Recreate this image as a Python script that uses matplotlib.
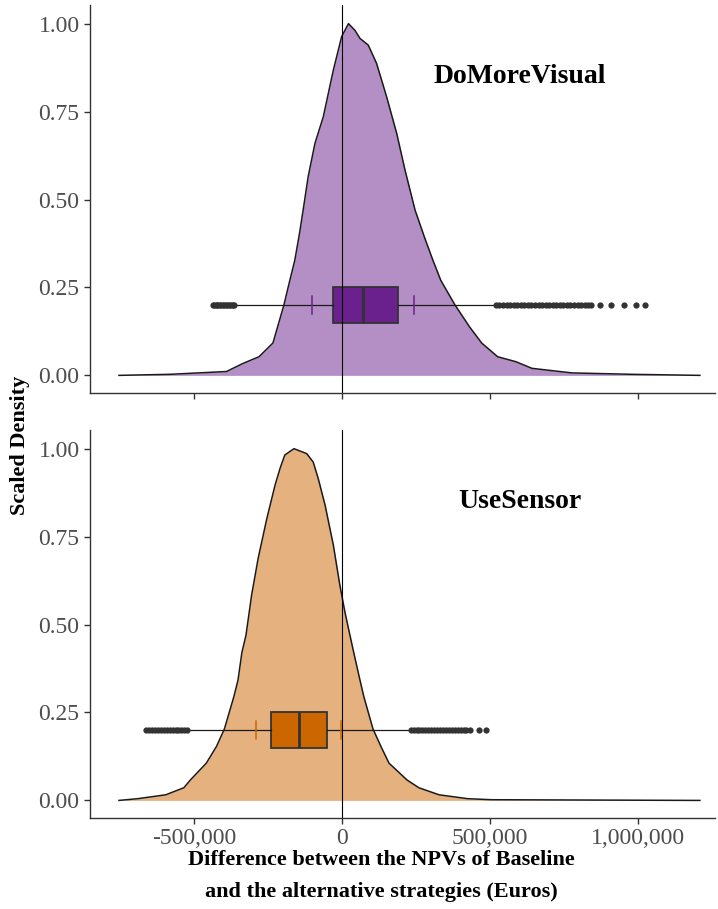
import matplotlib
matplotlib.use("Agg")
import matplotlib.pyplot as plt
from matplotlib.ticker import FuncFormatter

plt.rcParams['font.family'] = ['Liberation Serif', 'DejaVu Serif']

# ------------------------
# Data (thousand euros)
# ------------------------
strategies = ["DoMoreVisual", "UseSensor"]
fill_colors = ["#6A208D", "#CC6600"]

dmv_x = [-753, -581, -390, -334, -280, -233, -196, -176, -159, -143, -131,
         -114, -91, -63, -29, -1, 22, 44, 61, 89, 117, 151, 185, 213, 247,
         280, 307, 334, 382, 431, 472, 526, 587, 642, 777, 980, 1209]
dmv_density = [0.000, 0.003, 0.011, 0.034, 0.053, 0.092, 0.20, 0.27, 0.328,
               0.405, 0.47, 0.565, 0.66, 0.735, 0.868, 0.963, 1.00, 0.981,
               0.958, 0.939, 0.887, 0.792, 0.688, 0.584, 0.47, 0.39, 0.328,
               0.27, 0.20, 0.138, 0.092, 0.053, 0.039, 0.020, 0.007, 0.003,
               0.000]

us_x = [-753, -689, -595, -534, -512, -458, -424, -397, -365, -351, -338,
        -324, -305, -283, -254, -226, -209, -193, -162, -119, -97, -80, -57,
        -29, -7, 10, 27, 40, 61, 74, 105, 132, 159, 220, 260, 328, 424, 505,
        1209]
us_density = [0.000, 0.005, 0.016, 0.036, 0.058, 0.106, 0.153, 0.203, 0.295,
              0.342, 0.42, 0.47, 0.584, 0.688, 0.80, 0.896, 0.944, 0.982,
              1.00, 0.986, 0.962, 0.915, 0.84, 0.726, 0.612, 0.536, 0.47,
              0.42, 0.342, 0.295, 0.203, 0.153, 0.106, 0.058, 0.036, 0.016,
              0.005, 0.002, 0.000]

# box stats: whislo, q1, median, q3, whishi ; mean, sd
dmv_box = [-360, -30, 71, 189, 512]
us_box = [-520, -240, -145, -51, 226]
dmv_mean_sd = [71, 172]
us_mean_sd = [-147, 144]

dmv_outliers = [-437, -432, -427, -422, -417, -412, -407, -402, -397, -392,
                -387, -382, -377, -372, -367, -363,
                520, 532, 544, 556, 568, 580, 592, 604, 616, 628, 640, 652,
                664, 676, 688, 700, 712, 724, 736, 748, 760, 772, 784, 796,
                808, 820, 832, 840, 872, 909, 953, 993, 1024]
us_outliers = [-662, -652, -642, -632, -622, -612, -602, -592, -582, -572,
               -562, -552, -542, -532, -524,
               232, 242, 252, 262, 272, 282, 292, 302, 312, 322, 332, 342,
               352, 362, 372, 382, 392, 402, 412, 420, 431, 462, 485]

panels = [
    (dmv_x, dmv_density, dmv_box, dmv_mean_sd, dmv_outliers),
    (us_x, us_density, us_box, us_mean_sd, us_outliers),
]

box_y = 0.2
box_h = 0.1

fig = plt.figure(figsize=(7.18, 9.09), dpi=100)
ax_top = fig.add_axes([0.1253, 0.5677, 0.8705, 0.4268])
ax_bot = fig.add_axes([0.1253, 0.1001, 0.8705, 0.4268])

for ax, name, color, (xs, dens, box, msd, outl) in zip(
        [ax_top, ax_bot], strategies, fill_colors, panels):
    x = [v * 1000 for v in xs]
    ax.fill_between(x, 0, dens, color=color, alpha=0.5, lw=0)
    ax.plot(x, dens, color="#1a1a1a", lw=1.1, solid_joinstyle="round")

    stats = [{'whislo': box[0] * 1000, 'q1': box[1] * 1000,
              'med': box[2] * 1000, 'q3': box[3] * 1000,
              'whishi': box[4] * 1000, 'fliers': []}]
    ax.bxp(stats, positions=[box_y], widths=box_h, orientation='horizontal',
           showcaps=False, showfliers=False, patch_artist=True,
           boxprops=dict(facecolor=color, edgecolor="#333333", lw=1.3),
           medianprops=dict(color="#333333", lw=2),
           whiskerprops=dict(color="#1a1a1a", lw=0.9),
           manage_ticks=False)
    ax.plot([v * 1000 for v in outl], [box_y] * len(outl), 'o',
            color="#333333", ms=4.5, mew=0, zorder=3)

    # mean +/- sd marks
    m, s = msd
    for v in (m - s, m + s):
        ax.plot([v * 1000, v * 1000], [box_y - 0.025, box_y + 0.025],
                color=color, lw=1.1, zorder=3)

    ax.axvline(0, color="black", lw=0.8, zorder=4)

    ax.text(600000, 0.85, name, ha="center", va="center",
            fontsize=20, fontweight="bold")

    ax.set_xlim(-851000, 1260000)
    ax.set_ylim(-0.05, 1.053)
    ax.set_yticks([0, 0.25, 0.5, 0.75, 1.0])
    ax.yaxis.set_major_formatter(FuncFormatter(lambda v, p: f"{v:.2f}"))
    ax.set_xticks([-500000, 0, 500000, 1000000])
    ax.xaxis.set_major_formatter(FuncFormatter(lambda v, p: f"{v:,.0f}"))
    for side in ("top", "right"):
        ax.spines[side].set_visible(False)
    for side in ("left", "bottom"):
        ax.spines[side].set_color("#333333")
        ax.spines[side].set_linewidth(1.0)
    ax.tick_params(colors="#333333", labelcolor="#4D4D4D", labelsize=17,
                   length=4, width=1.0)

ax_top.tick_params(axis="x", labelbottom=False)

fig.text(381 / 718, 1 - 860 / 909, "Difference between the NPVs of Baseline",
         ha="center", va="center", fontsize=16, fontweight="bold")
fig.text(381 / 718, 1 - 892 / 909, "and the alternative strategies (Euros)",
         ha="center", va="center", fontsize=16, fontweight="bold")
fig.text(20 / 718, 1 - 445 / 909, "Scaled Density", rotation=90,
         ha="center", va="center", fontsize=16, fontweight="bold")

fig.savefig("out.png", dpi=100)
